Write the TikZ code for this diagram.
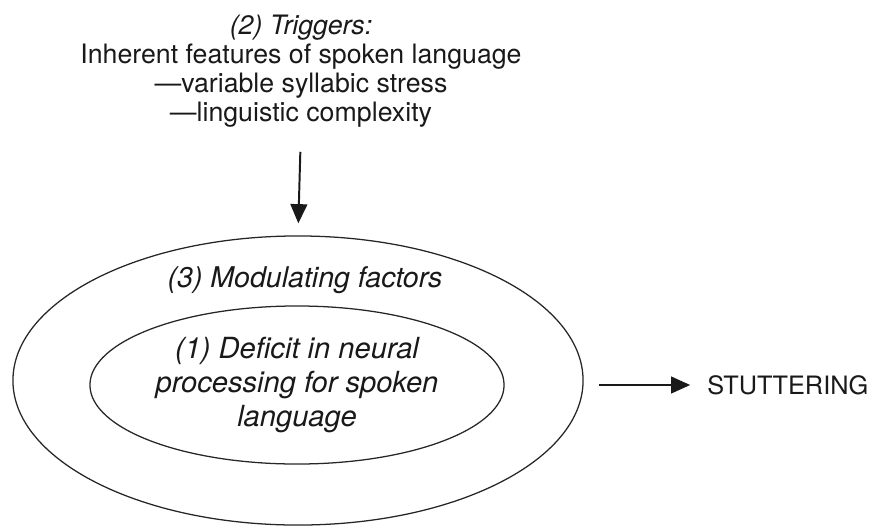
\documentclass[tikz,border=0pt]{standalone}
\usepackage{fontspec}
\setmainfont{TeX Gyre Heros}
\usetikzlibrary{shapes.geometric,arrows.meta}

\begin{document}
\begin{tikzpicture}
[x=0.025cm,y=-0.025cm,
every node/.style={inner sep=0pt,text=black!90},
oval/.style={ellipse,draw=black!85,line width=0.9pt},
toptext/.style={align=center,anchor=north,font=\fontsize{19}{20.6}\selectfont},
innertext/.style={align=center,font=\itshape\fontsize{20.7}{24.5}\selectfont},
flow/.style={draw=black!90,line width=1.4pt,-{Triangle[length=0.48cm,width=0.42cm]}}]
\useasboundingbox (0,0) rectangle (874,527);
\node[toptext] (trig) at (301,15) {\textit{(2) Triggers:}\\Inherent features of spoken language\\—variable syllabic stress\\—linguistic complexity};
\node[oval,minimum width=14.25cm,minimum height=7.225cm] (outer) at (298,380.5) {};
\node[anchor=base,font=\itshape\fontsize{20.3}{24}\selectfont] (mod) at (305,287) {(3) Modulating factors};
\node[oval,innertext,minimum width=10.35cm,minimum height=3.95cm] (deficit) at (297,385) {(1) Deficit in neural\\processing for spoken\\language};
\node[anchor=west,font=\fontsize{18}{20}\selectfont] (stut) at (707,385) {STUTTERING};
\draw[flow,shorten <=0.6cm,shorten >=0.3cm] (trig.south) -- (outer.north);
\draw[flow,shorten <=0.38cm,shorten >=0.42cm] (stut.west -| outer.east) -- (stut.west);
\end{tikzpicture}
\end{document}
